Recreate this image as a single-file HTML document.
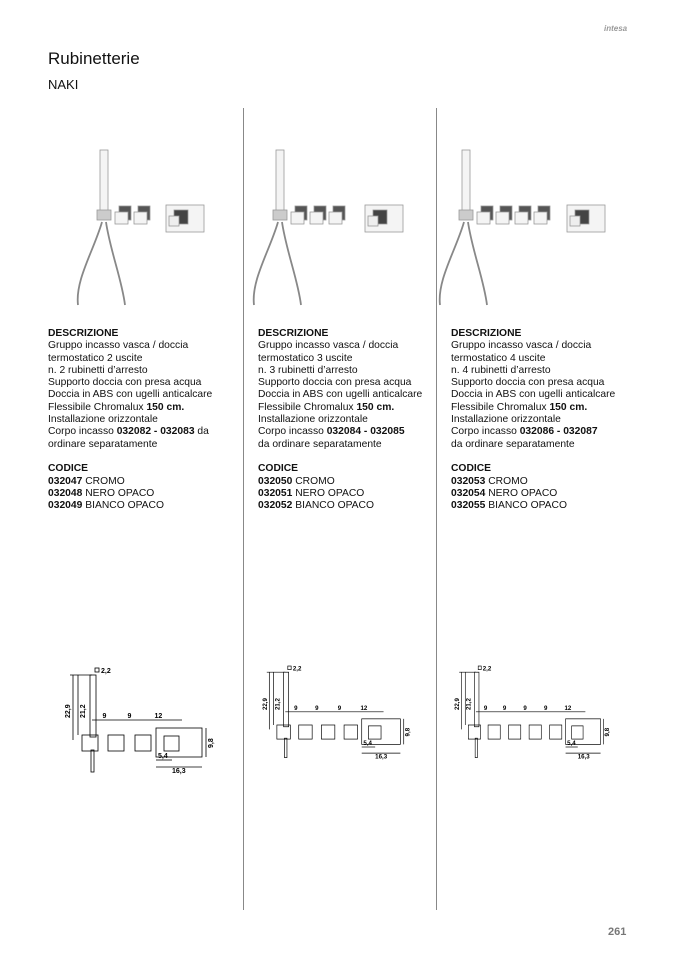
<!DOCTYPE html>
<html><head><meta charset="utf-8"><style>
body{margin:0;width:677px;height:958px;background:#fff;position:relative;font-family:"Liberation Sans",sans-serif;color:#111;overflow:hidden}
.a{position:absolute}
.t{font-size:10.3px;line-height:12.3px;white-space:nowrap}
b{font-weight:bold}
.sep{position:absolute;width:1px;background:#888;top:108px;height:802px}
</style></head><body>
<div class="a" style="left:604px;top:24px;font-size:8px;color:#999;font-style:italic;font-weight:bold">intesa</div>
<div class="a" style="left:48px;top:49px;font-size:17px">Rubinetterie</div>
<div class="a" style="left:48px;top:77px;font-size:13px">NAKI</div>
<div class="sep" style="left:243px"></div>
<div class="sep" style="left:436px"></div>

<div class="a t" style="left:48px;top:328px"><b>DESCRIZIONE</b><br>Gruppo incasso vasca / doccia<br>termostatico 2 uscite<br>n. 2 rubinetti d’arresto<br>Supporto doccia con presa acqua<br>Doccia in ABS con ugelli anticalcare<br>Flessibile Chromalux <b>150 cm.</b><br>Installazione orizzontale<br>Corpo incasso <b>032082 - 032083</b> da<br>ordinare separatamente<br><br><b>CODICE</b><br><b>032047</b> CROMO<br><b>032048</b> NERO OPACO<br><b>032049</b> BIANCO OPACO</div>
<div class="a t" style="left:258px;top:328px"><b>DESCRIZIONE</b><br>Gruppo incasso vasca / doccia<br>termostatico 3 uscite<br>n. 3 rubinetti d’arresto<br>Supporto doccia con presa acqua<br>Doccia in ABS con ugelli anticalcare<br>Flessibile Chromalux <b>150 cm.</b><br>Installazione orizzontale<br>Corpo incasso <b>032084 - 032085</b><br>da ordinare separatamente<br><br><b>CODICE</b><br><b>032050</b> CROMO<br><b>032051</b> NERO OPACO<br><b>032052</b> BIANCO OPACO</div>
<div class="a t" style="left:451px;top:328px"><b>DESCRIZIONE</b><br>Gruppo incasso vasca / doccia<br>termostatico 4 uscite<br>n. 4 rubinetti d’arresto<br>Supporto doccia con presa acqua<br>Doccia in ABS con ugelli anticalcare<br>Flessibile Chromalux <b>150 cm.</b><br>Installazione orizzontale<br>Corpo incasso <b>032086 - 032087</b><br>da ordinare separatamente<br><br><b>CODICE</b><br><b>032053</b> CROMO<br><b>032054</b> NERO OPACO<br><b>032055</b> BIANCO OPACO</div>

<div class="a" style="left:608px;top:926px;font-size:11px;font-weight:bold;color:#777">261</div>

<svg class="a" style="left:0;top:0" width="677" height="958" id="s"></svg>
<script>
var s='';
function prod(x,n,px){
 s+=`<g fill="#f4f4f4" stroke="#999" stroke-width="0.8">
 <rect x="${x}" y="150" width="8" height="62"/>
 <rect x="${x-3}" y="210" width="14" height="10" fill="#ccc"/>
 <path d="M${x+2},222 C${x-6},250 ${x-25},280 ${x-22},305" fill="none" stroke="#888" stroke-width="1.8"/>
 <path d="M${x+6},222 C${x+10},250 ${x+22},280 ${x+25},305" fill="none" stroke="#888" stroke-width="1.8"/>`;
 for(var i=0;i<n;i++){var hx=x+15+i*19; s+=`<rect x="${hx+4}" y="206" width="12" height="14" fill="#555"/><rect x="${hx}" y="212" width="13" height="12" fill="#f4f4f4"/>`;}
 s+=`<rect x="${px}" y="205" width="38" height="27"/><rect x="${px+8}" y="210" width="14" height="14" fill="#444"/><rect x="${px+3}" y="216" width="10" height="10" fill="#eee"/></g>`;
}
prod(100,2,166);prod(276,3,365);prod(462,4,567);

function tech(ox,oy,sx,sy,n){
 var g=`<g transform="translate(${ox},${oy}) scale(${sx},${sy})" fill="none" stroke="#000" stroke-width="0.8">`;
 var T=[];
 function tx(x,y,str,rot){T.push([x,y,str,rot]);}
 g+=`<rect x="40" y="15" width="6" height="62"/><rect x="32" y="75" width="16" height="16"/><rect x="41" y="90" width="3" height="22"/>`;
 g+=`<line x1="23" y1="15" x2="23" y2="80"/><line x1="28" y1="15" x2="28" y2="75"/><line x1="20" y1="15" x2="42" y2="15"/>`;
 g+=`<rect x="45" y="8" width="4" height="4"/>`;
 tx(51,13,'2,2');tx(20,58,'22,9',1);tx(35,58,'21,2',1);
 var x=58, px=43;
 for(var i=0;i<n;i++){g+=`<rect x="${x}" y="75" width="16" height="16"/>`;tx((px+x+8)/2-2,58,'9');px=x+8;x+=27;}
 var bx=x-6;
 g+=`<line x1="42" y1="60" x2="${bx+26}" y2="60"/>`;tx((px+bx+16)/2-3,58,'12');
 g+=`<rect x="${bx}" y="68" width="46" height="29"/><rect x="${bx+8}" y="76" width="15" height="15"/>`;
 g+=`<line x1="${bx+50}" y1="68" x2="${bx+50}" y2="97"/>`;tx(bx+57,88,'9,8',1);
 g+=`<line x1="${bx}" y1="100" x2="${bx+16}" y2="100"/>`;tx(bx+2,98,'5,4');
 g+=`<line x1="${bx}" y1="107" x2="${bx+46}" y2="107"/>`;tx(bx+16,113,'16,3');
 g+=`</g>`;
 T.forEach(function(t){var X=ox+t[0]*sx,Y=oy+t[1]*sy;
  g+=`<text font-family="Liberation Sans" font-size="${7*sy}" font-weight="bold" fill="#000" ${t[3]?`transform="translate(${X},${Y}) rotate(-90)"`:`x="${X}" y="${Y}"`}>${t[2]}</text>`;});
 s+=g;
}
tech(50,660,1,1,2);tech(250,659,0.84,0.88,3);tech(444,659,0.76,0.88,4);
document.getElementById('s').innerHTML=s;
</script>
</body></html>
